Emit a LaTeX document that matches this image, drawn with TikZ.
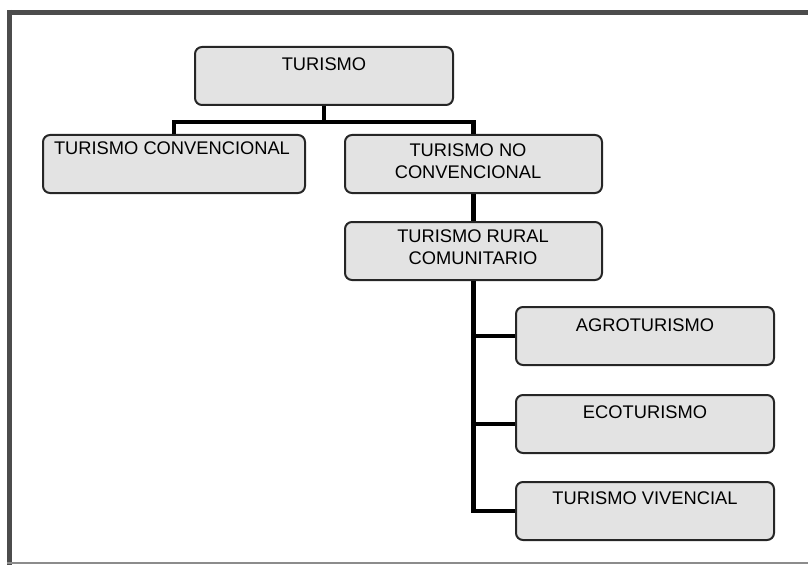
\documentclass[tikz,border=0pt]{standalone}
\usepackage{fontspec}
\setmainfont{Liberation Sans}
\begin{document}
\begin{tikzpicture}[x=1pt,y=-1pt,
  box/.style={rectangle, rounded corners=7pt, draw=black!85, line width=2pt, fill=black!11, minimum height=58pt, inner sep=0pt},
  txt/.style={font=\fontsize{18.3}{21.5}\selectfont, align=center, inner sep=0pt, text=black},
  conn/.style={line width=4.6pt, draw=black, line join=miter, line cap=butt},
  frame/.style={draw=black!70}]
\useasboundingbox (0,0) rectangle (808,567);
% outer frame
\draw[frame, line width=5pt] (9.5,10) -- (9.5,565);
\draw[frame, line width=5pt] (7,12.5) -- (808,12.5);
\draw[frame, draw=black!45, line width=2pt] (7,563) -- (808,563);
% boxes
\node[box, minimum width=258pt] (tur) at (324,76) {};
\node[box, minimum width=262pt] (conv) at (174,164) {};
\node[box, minimum width=257pt] (noconv) at (473.5,164) {};
\node[box, minimum width=257pt] (rural) at (473.5,251) {};
\node[box, minimum width=258pt] (agro) at (645,336) {};
\node[box, minimum width=258pt] (eco) at (645,424) {};
\node[box, minimum width=258pt] (viv) at (645,511) {};
% labels
\node[txt] (turt) at (324,64) {TURISMO};
\node[txt] (convt) at (172,148) {TURISMO CONVENCIONAL};
\node[txt] (noconvt) at (468,161) {TURISMO NO\\CONVENCIONAL};
\node[txt] (ruralt) at (473,247) {TURISMO RURAL\\COMUNITARIO};
\node[txt] (agrot) at (645,325) {AGROTURISMO};
\node[txt] (ecot) at (645,412) {ECOTURISMO};
\node[txt] (vivt) at (645,498) {TURISMO VIVENCIAL};
% connectors
\coordinate (j1) at (324,122);
\draw[conn] (tur.south) -- (j1);
\draw[conn] (conv.north) -- (conv.north |- j1) -- (noconv.north |- j1) -- (noconv.north);
\draw[conn] (noconv.south) -- (rural.south |- rural.north);
\draw[conn] (rural.south) -- (rural.south |- viv.west) -- (viv.west);
\draw[conn, line width=4pt] (rural.south |- agro.west) -- (agro.west);
\draw[conn, line width=4pt] (rural.south |- eco.west) -- (eco.west);
\end{tikzpicture}
\end{document}
